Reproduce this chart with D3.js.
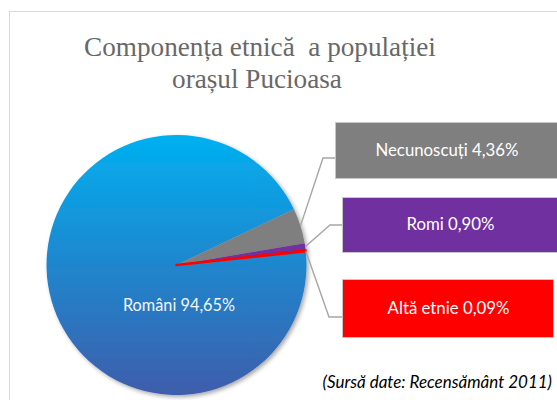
<!DOCTYPE html>
<html>
<head>
<meta charset="utf-8">
<script src="https://cdn.jsdelivr.net/npm/d3@7"></script>
<style>
  body { margin: 0; background: #fff; }
  svg { display: block; }
  text { white-space: pre; }
</style>
</head>
<body>
<svg id="canvas" width="557" height="400"></svg>
<script>
// chart data
let categories = ['Români', 'Necunoscuți', 'Romi', 'Altă etnie']
let values = [94.65, 4.36, 0.90, 0.09]
let titleLines = ['Componența etnică  a populației', 'orașul Pucioasa']
let sourceText = '(Sursă date: Recensământ 2011)'

let colors = ['url(#blueGrad)', '#7f7f7f', '#7030a0', '#ff0000']

let canvas = d3.select('#canvas')
let cx = 176.5, cy = 265, radius = 130

let defs = canvas.append('defs')
// gradient is in the pie group's own coordinates (centred on 0,0)
let grad = defs.append('linearGradient')
    .attr('id', 'blueGrad')
    .attr('gradientUnits', 'userSpaceOnUse')
    .attr('x1', 0).attr('y1', -radius)
    .attr('x2', 0).attr('y2', radius)
grad.append('stop').attr('offset', '0%').attr('stop-color', '#00b0f0')
grad.append('stop').attr('offset', '100%').attr('stop-color', '#3e5dab')

let shadow = defs.append('filter').attr('id', 'shadow')
    .attr('x', '-10%').attr('y', '-10%').attr('width', '130%').attr('height', '130%')
shadow.append('feDropShadow')
    .attr('dx', 2).attr('dy', 2).attr('stdDeviation', 2)
    .attr('flood-color', '#000').attr('flood-opacity', 0.35)

// outer frame (runs off the right and bottom edge)
canvas.append('rect')
    .attr('x', 9.5).attr('y', 11.5)
    .attr('width', 600).attr('height', 450)
    .attr('fill', '#fff')
    .attr('stroke', '#d9d9d9')

// title
canvas.append('text')
    .attr('text-anchor', 'middle')
    .attr('font-family', 'Liberation Serif')
    .attr('font-size', 27.2)
    .attr('fill', '#686868')
    .selectAll('tspan')
    .data(titleLines)
    .enter()
    .append('tspan')
    .attr('x', (d, i) => i === 0 ? 260 : 257)
    .attr('y', (d, i) => 56 + i * 32)
    .text(d => d)

// pie
let startAngle = 83.9 * Math.PI / 180
let pie = d3.pie().sort(null)
    .startAngle(startAngle)
    .endAngle(startAngle + 2 * Math.PI)
let arcs = pie(values)
let arc = d3.arc().innerRadius(0).outerRadius(radius)
let edge = d3.arc().innerRadius(radius).outerRadius(radius)

let pieG = canvas.append('g')
    .attr('transform', `translate(${cx},${cy})`)

pieG.append('g')
    .attr('filter', 'url(#shadow)')
    .selectAll('path')
    .data(arcs)
    .enter()
    .append('path')
    .attr('d', arc)
    .attr('fill', (d, i) => colors[i])
    .attr('stroke', (d, i) => i === 3 ? '#ff0000' : 'none')
    .attr('stroke-width', (d, i) => i === 3 ? 2.5 : 0)
    .attr('stroke-linejoin', 'round')

let fmt = (v) => v.toFixed(2).replace('.', ',') + '%'

// label inside the big slice
canvas.append('text')
    .attr('x', 179)
    .attr('y', 311)
    .attr('text-anchor', 'middle')
    .attr('font-family', 'Lato')
    .attr('font-size', 16.3)
    .attr('fill', '#f2f6fb')
    .text(categories[0] + ' ' + fmt(values[0]))

// callout boxes for the small slices
let boxes = [
    null,
    { x: 335, y: 122, w: 222, h: 56, elbow: [323, 158] },
    { x: 342, y: 197, w: 215, h: 55, elbow: [330, 225] },
    { x: 342, y: 279, w: 211, h: 58, elbow: [329, 317] }
]

boxes.forEach((b, i) => {
    if (!b) return
    let c = edge.centroid(arcs[i])
    let start = [cx + c[0], cy + c[1]]
    canvas.append('polyline')
        .attr('points', [start, b.elbow, [b.x, b.elbow[1]]].map(p => p.join(',')).join(' '))
        .attr('fill', 'none')
        .attr('stroke', '#a6a6a6')
        .attr('stroke-width', 1.4)
    canvas.append('rect')
        .attr('x', b.x + 0.5).attr('y', b.y + 0.5)
        .attr('width', b.w).attr('height', b.h)
        .attr('fill', colors[i])
        .attr('stroke', '#c8c8c8')
    canvas.append('text')
        .attr('x', b.x + b.w / 2 + 1)
        .attr('y', b.y + b.h / 2 + 5.5)
        .attr('text-anchor', 'middle')
        .attr('font-family', 'Lato')
        .attr('font-size', 16.8)
        .attr('fill', '#fff')
        .text(categories[i] + ' ' + fmt(values[i]))
})

// source note
canvas.append('text')
    .attr('x', 552)
    .attr('y', 388)
    .attr('text-anchor', 'end')
    .attr('font-family', 'Lato')
    .attr('font-style', 'italic')
    .attr('font-size', 17)
    .attr('fill', '#000')
    .text(sourceText)
</script>
</body>
</html>
